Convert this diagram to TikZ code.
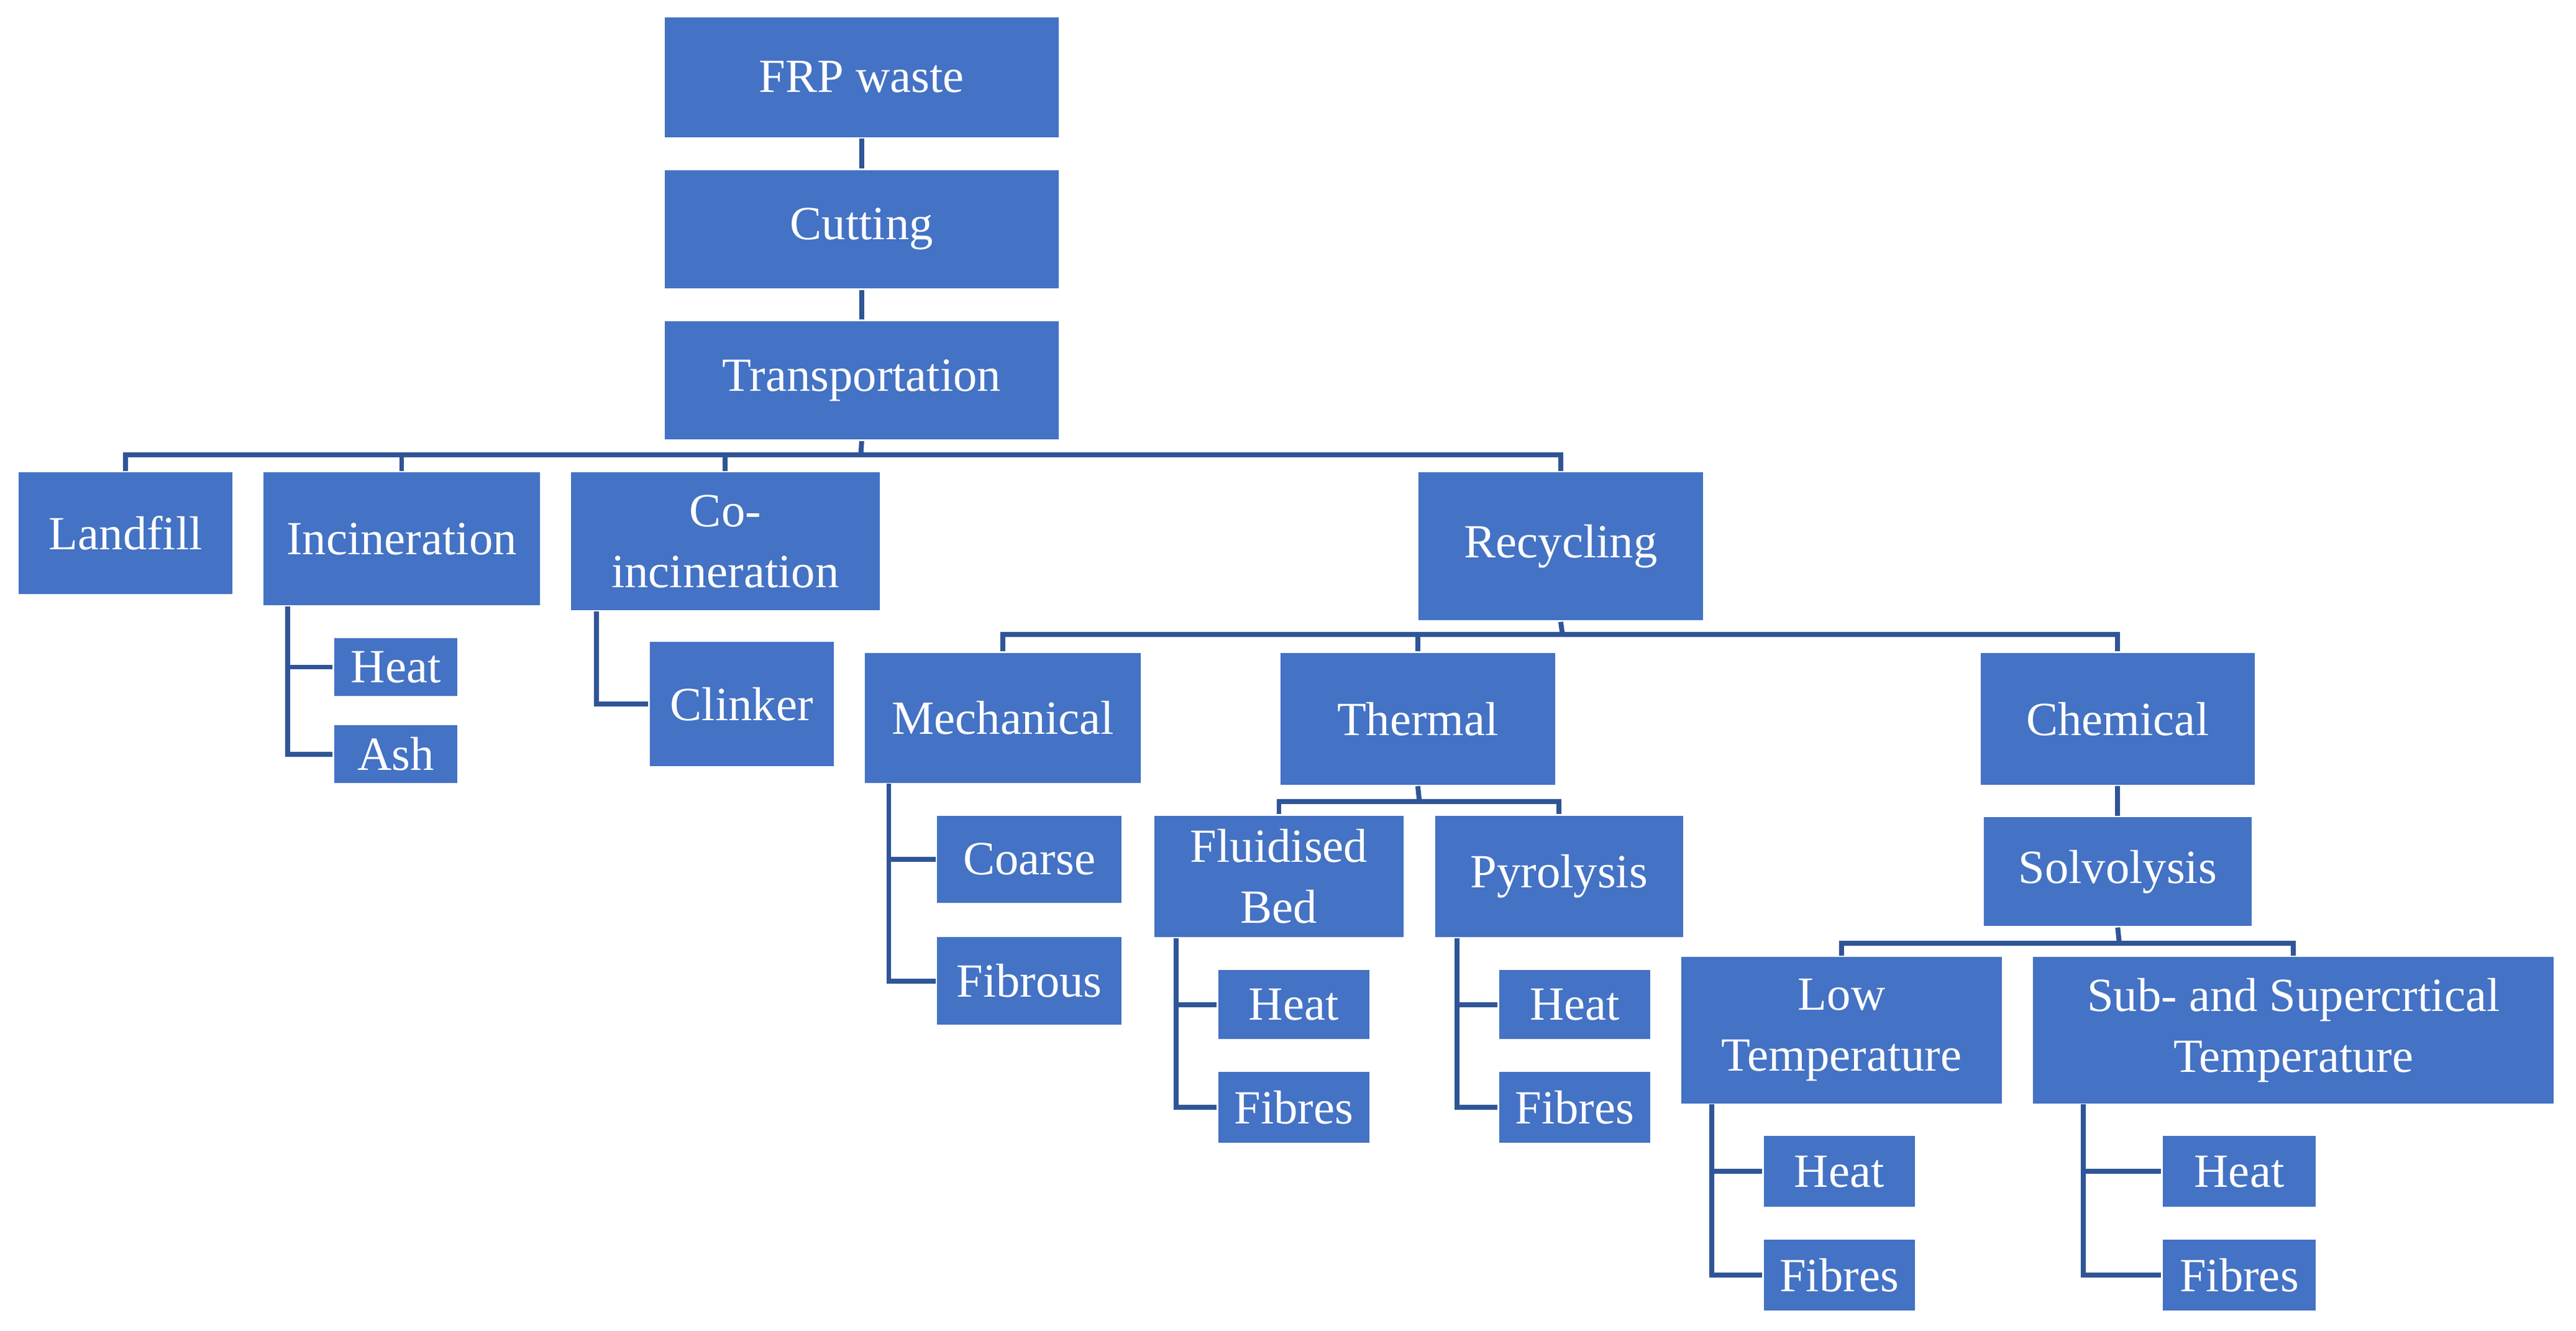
\documentclass[tikz,border=0pt]{standalone}
\usepackage{fontspec}
\setmainfont{Liberation Serif}
\definecolor{bfill}{HTML}{4472C4}
\definecolor{lcol}{HTML}{2F5597}
\tikzset{box/.style={fill=bfill,draw=white,line width=1pt,text=white,inner sep=0pt,align=center,font=\fontsize{29}{37}\selectfont},
 con/.style={draw=lcol,line width=3pt}}
\newcommand{\bx}[6]{\node[box,minimum width={(#4-#2)*1pt},minimum height={(#5-#3)*1pt}] (#1) at ({(#2+#4)/2},{(#3+#5)/2}) {#6};}
\begin{document}
\begin{tikzpicture}[x=1pt,y=-1pt]
\useasboundingbox (0,0) rectangle (1568,810);
\bx{frp}{404}{10}{645}{84}{FRP waste}
\bx{cut}{404}{103}{645}{176}{Cutting}
\bx{tra}{404}{195}{645}{268}{Transportation}
\bx{lan}{11}{287}{142}{362}{Landfill}
\bx{inc}{160}{287}{329}{369}{Incineration}
\bx{coi}{347}{287}{536}{372}{Co-\\incineration}
\bx{rec}{863}{287}{1037}{378}{Recycling}
\bx{h1}{203}{388}{279}{424}{Heat}
\bx{a1}{203}{441}{279}{477}{Ash}
\bx{cli}{395}{390}{508}{467}{Clinker}
\bx{mec}{526}{397}{695}{477}{Mechanical}
\bx{the}{779}{397}{947}{478}{Thermal}
\bx{che}{1205}{397}{1373}{478}{Chemical}
\bx{coa}{570}{496}{683}{550}{Coarse}
\bx{fib}{570}{570}{683}{624}{Fibrous}
\bx{flu}{702}{496}{855}{571}{Fluidised\\Bed}
\bx{pyr}{873}{496}{1025}{571}{Pyrolysis}
\bx{fh}{741}{590}{834}{633}{Heat}
\bx{ff}{741}{652}{834}{696}{Fibres}
\bx{ph}{912}{590}{1005}{633}{Heat}
\bx{pf}{912}{652}{1005}{696}{Fibres}
\bx{sol}{1207}{497}{1371}{564}{Solvolysis}
\bx{low}{1023}{582}{1219}{672}{Low\\Temperature}
\bx{sub}{1237}{582}{1555}{672}{Sub- and Supercrtical\\Temperature}
\bx{lh}{1073}{691}{1166}{735}{Heat}
\bx{lf}{1073}{754}{1166}{798}{Fibres}
\bx{sh}{1316}{691}{1410}{735}{Heat}
\bx{sf}{1316}{754}{1410}{798}{Fibres}
\coordinate (b1) at (524,277);
\coordinate (b2) at (951,386);
\coordinate (b3) at (864,488);
\coordinate (b4) at (1290,574);
\draw[con] (frp) -- (cut);
\draw[con] (cut) -- (tra);
\draw[con] (tra.south) -- (b1);
\draw[con] (lan.north) |- (b1) -| (rec.north);
\draw[con] (inc.north) -- (inc.north |- b1);
\draw[con] (coi.north) -- (coi.north |- b1);
\draw[con] (rec.south) -- (b2);
\draw[con] (mec.north) |- (b2) -| (che.north);
\draw[con] (the.north) -- (the.north |- b2);
\draw[con] (the.south) -- (b3);
\draw[con] (flu.north) |- (b3) -| (pyr.north);
\draw[con] (che) -- (sol);
\draw[con] (sol.south) -- (b4);
\draw[con] (low.north) |- (b4) -| (sub.north);
\coordinate (i0) at (175,369);
\draw[con] (i0) |- (h1.west); \draw[con] (i0) |- (a1.west);
\coordinate (c0) at (363,372);
\draw[con] (c0) |- (cli.west);
\coordinate (m0) at (541,477);
\draw[con] (m0) |- (coa.west); \draw[con] (m0) |- (fib.west);
\coordinate (f0) at (716,571);
\draw[con] (f0) |- (fh.west); \draw[con] (f0) |- (ff.west);
\coordinate (p0) at (887,571);
\draw[con] (p0) |- (ph.west); \draw[con] (p0) |- (pf.west);
\coordinate (l0) at (1042,672);
\draw[con] (l0) |- (lh.west); \draw[con] (l0) |- (lf.west);
\coordinate (s0) at (1268,672);
\draw[con] (s0) |- (sh.west); \draw[con] (s0) |- (sf.west);
\end{tikzpicture}
\end{document}
